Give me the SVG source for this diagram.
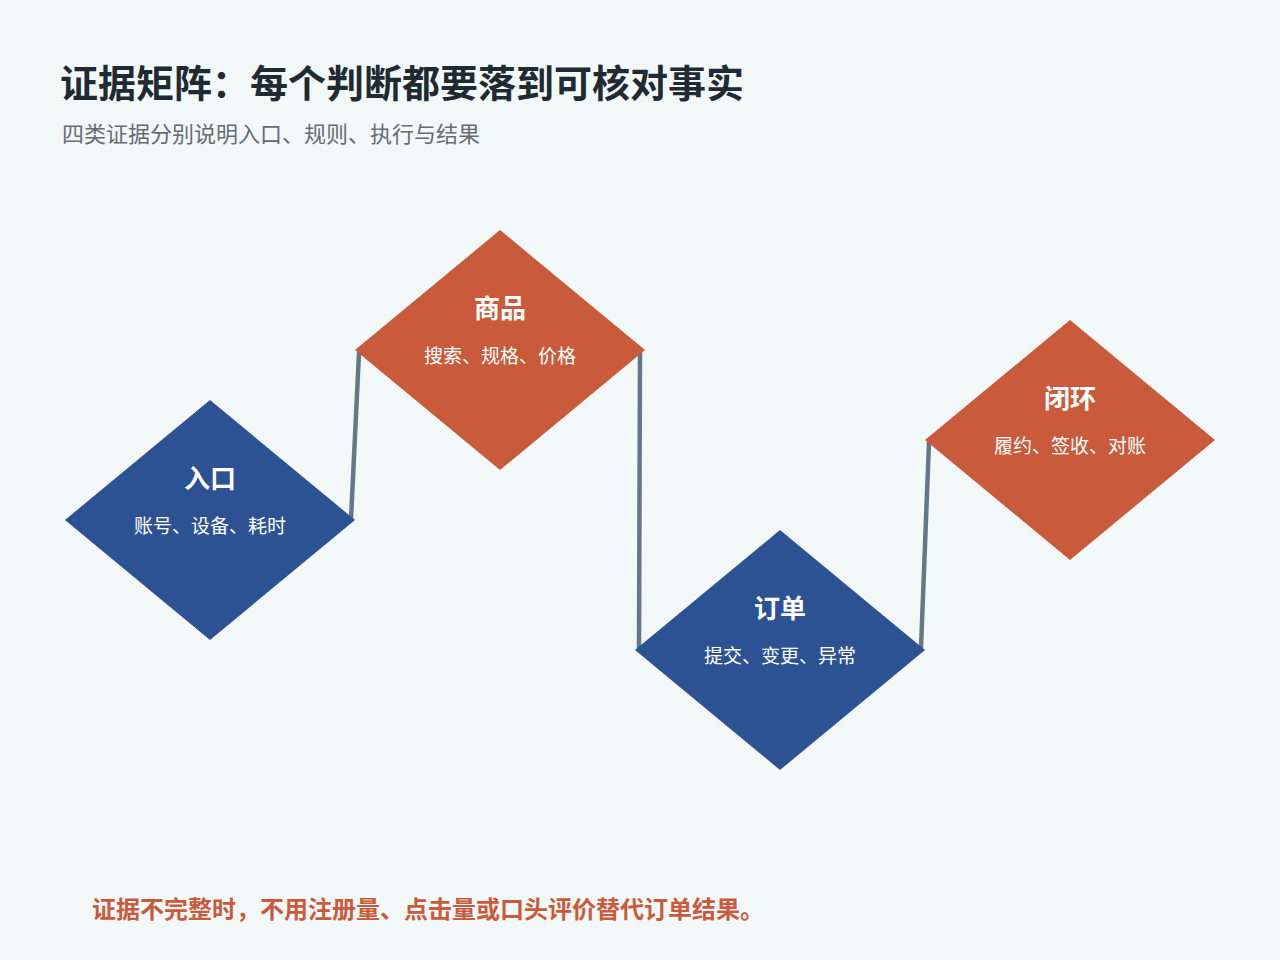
<svg xmlns="http://www.w3.org/2000/svg" width="1280" height="960" viewBox="0 0 1280 960">
<style>
text{font-family:"Noto Sans CJK SC","Noto Sans",sans-serif}
.t{font-size:26px;font-weight:bold;fill:#fff;text-anchor:middle}
.s{font-size:19px;fill:#fff;text-anchor:middle}
.b{fill:#2d5293}.o{fill:#c95b3c}
.c{stroke:#667788;stroke-width:4.5;fill:none;stroke-linecap:round}
</style>
<rect width="1280" height="960" fill="#f3f8f8"/>
<text x="60" y="97" font-size="38" font-weight="bold" fill="#1f2a33">证据矩阵：每个判断都要落到可核对事实</text>
<text x="62" y="142" font-size="22" fill="#666c72">四类证据分别说明入口、规则、执行与结果</text>
<g id="connectors">
<path class="c" d="M351 519 L359 353"/>
<path class="c" d="M640 352 L639 648"/>
<path class="c" d="M921 648 L929 442"/>
</g>
<g id="n1"><polygon class="b" points="210,400 355,520 210,640 65,520"/><text class="t" x="210" y="488">入口</text><text class="s" x="210" y="533">账号、设备、耗时</text></g>
<g id="n2"><polygon class="o" points="500,230 645,350 500,470 355,350"/><text class="t" x="500" y="318">商品</text><text class="s" x="500" y="363">搜索、规格、价格</text></g>
<g id="n3"><polygon class="b" points="780,530 925,650 780,770 635,650"/><text class="t" x="780" y="618">订单</text><text class="s" x="780" y="663">提交、变更、异常</text></g>
<g id="n4"><polygon class="o" points="1070,320 1215,440 1070,560 925,440"/><text class="t" x="1070" y="408">闭环</text><text class="s" x="1070" y="453">履约、签收、对账</text></g>
<text x="92" y="918" font-size="24" font-weight="bold" fill="#c95b3c">证据不完整时，不用注册量、点击量或口头评价替代订单结果。</text>
</svg>
